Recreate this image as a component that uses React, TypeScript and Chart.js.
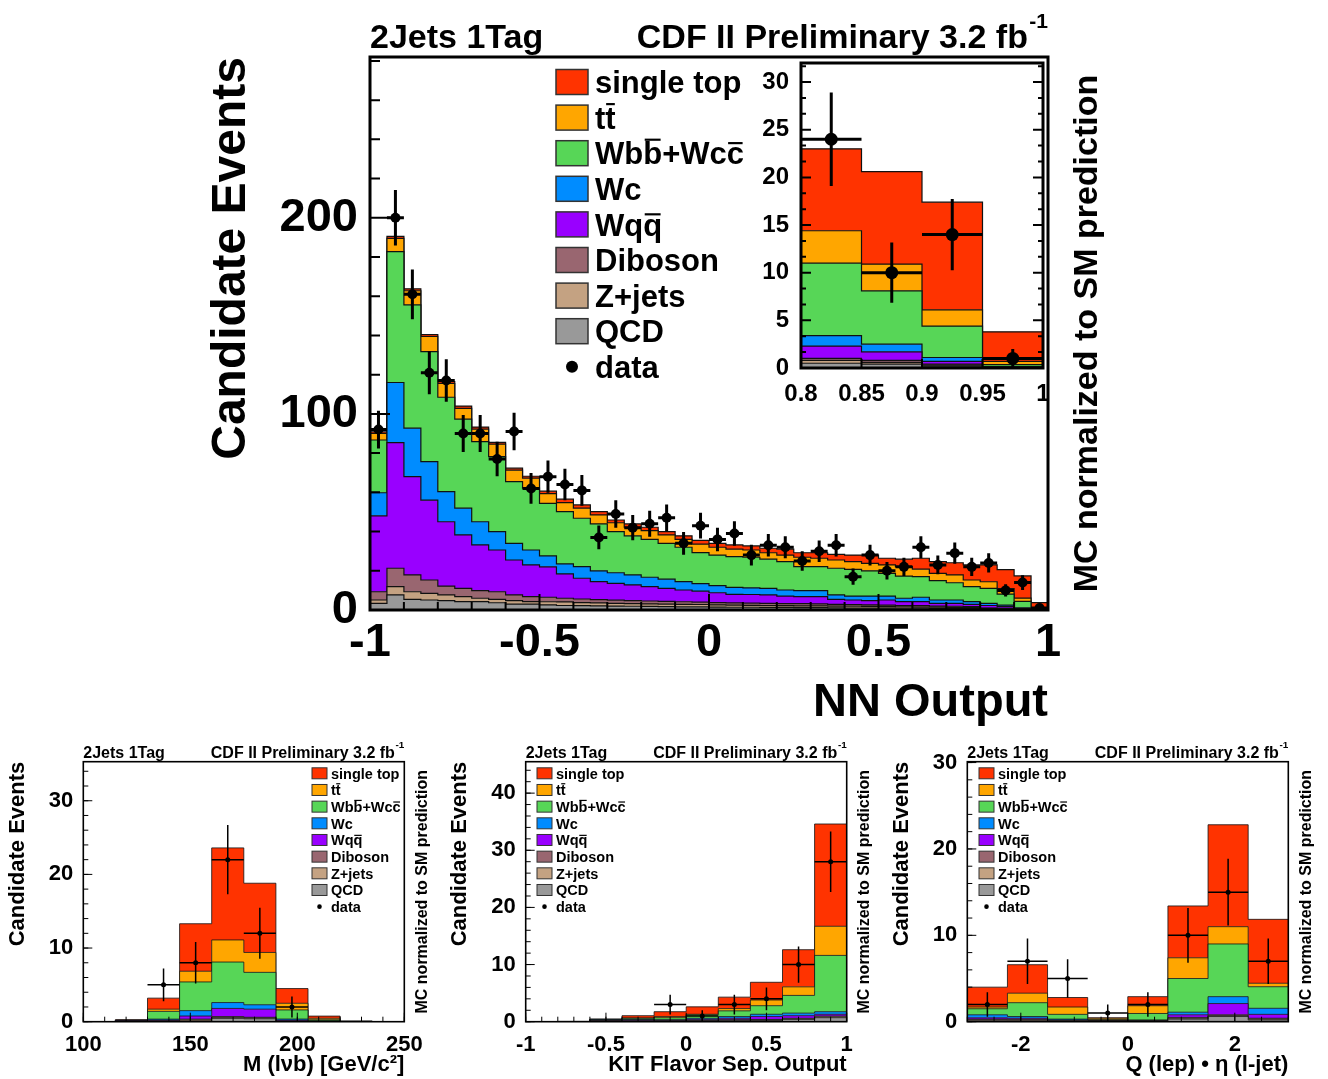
import React, { useEffect, useRef } from "react";
import { Chart, registerables } from "chart.js";

Chart.register(...registerables);

const FAMILY = "'Liberation Sans', Arial, Helvetica, sans-serif";
Chart.defaults.font.family = FAMILY;
Chart.defaults.color = "#000";

// ---------------- NN output (main plot, 40 bins from -1 to 1) ----------------
const nnXTicks = [-1, -0.5, 0, 0.5, 1];
const nnYTicks = [0, 100, 200];
const nnSingleTop = [0.8, 1.0, 1.0, 1.0, 1.0, 1.2, 1.1, 0.9, 1.0, 1.0, 1.3, 1.7, 1.7, 1.7, 1.4, 1.7, 1.7, 1.7, 1.8, 1.9, 2.0, 2.2, 2.1, 2.3, 3.0, 2.3, 2.8, 2.9, 3.3, 4.2, 3.4, 3.8, 5.6, 6.0, 6.2, 7.7, 8.6, 9.7, 11.3, 3.1];
const nnTT = [3.3, 6.7, 7.2, 7.7, 7.0, 5.5, 6.3, 6.4, 5.8, 5.1, 4.9, 4.6, 5.1, 4.6, 4.5, 4.4, 4.5, 4.3, 4.0, 4.3, 4.0, 3.8, 3.7, 3.3, 3.3, 4.8, 4.3, 4.2, 4.0, 3.8, 4.3, 4.8, 3.8, 3.7, 4.0, 3.4, 3.4, 2.8, 1.7, 0.35];
const nnWbb = [26.9, 66.8, 62.9, 56.1, 48.1, 45.4, 40.9, 38.2, 31.5, 31.5, 26.8, 26.7, 24.7, 23.9, 21.0, 19.9, 19.3, 18.3, 17.5, 15.8, 15.6, 15.7, 15.6, 14.9, 14.5, 12.2, 12.2, 13.6, 13.6, 12.9, 11.6, 11.3, 10.5, 9.9, 8.8, 7.6, 7.6, 5.6, 3.3, 0.2];
const nnWc = [11.8, 30.6, 24.7, 19.7, 15.4, 13.6, 11.8, 9.4, 8.5, 7.6, 5.6, 5.1, 5.9, 5.5, 5.4, 5.1, 4.8, 4.7, 4.3, 3.9, 3.6, 3.5, 3.4, 3.3, 3.1, 3.1, 3.1, 2.3, 2.0, 2.3, 2.0, 1.7, 2.2, 1.7, 1.7, 1.4, 1.1, 0.8, 0.4, 0.05];
const nnWqq = [38.7, 64.1, 50.1, 40.7, 32.8, 27.3, 23.3, 21.3, 17.8, 16.2, 15.5, 12.4, 10.6, 9.2, 8.6, 8.0, 7.3, 6.6, 6.0, 5.6, 5.0, 4.4, 4.4, 4.3, 3.8, 3.6, 3.7, 2.5, 2.4, 2.2, 2.6, 2.0, 2.1, 1.4, 1.5, 1.2, 1.3, 0.9, 0.3, 0.04];
const nnDiboson = [4.2, 9.4, 8.6, 6.8, 4.5, 4.2, 3.9, 3.9, 2.9, 2.5, 2.3, 1.9, 1.8, 1.7, 1.6, 1.6, 1.5, 1.4, 1.3, 1.2, 1.2, 1.1, 1.1, 1.1, 1.1, 1.1, 1.0, 0.9, 0.8, 0.8, 0.8, 0.7, 0.7, 0.6, 0.6, 0.5, 0.2, 0.2, 0.1, 0.02];
const nnZjets = [1.7, 4.2, 3.9, 3.4, 2.9, 2.5, 1.7, 1.7, 1.8, 1.3, 1.6, 1.8, 1.6, 1.5, 1.4, 1.3, 1.3, 1.3, 1.3, 1.2, 1.1, 1.1, 1.0, 1.0, 0.9, 0.9, 0.9, 0.9, 0.9, 0.8, 0.7, 0.7, 0.6, 0.6, 0.5, 0.5, 0.3, 0.2, 0.1, 0.02];
const nnQCD = [3.4, 7.7, 5.4, 5.1, 4.8, 4.3, 4.3, 3.7, 3.0, 3.0, 2.6, 2.3, 2.2, 2.1, 2.0, 1.9, 1.8, 1.7, 1.6, 1.6, 1.5, 1.4, 1.4, 1.3, 1.3, 1.2, 1.2, 1.1, 1.0, 1.0, 1.0, 0.9, 0.9, 0.8, 0.8, 0.7, 0.5, 0.4, 0.2, 0.02];
const nnData = [92, 200, 161, 121, 117, 90, 90, 77, 91, 62, 68, 64, 61, 37, 49, 42, 44, 47, 34, 43, 36, 39, 28, 33, 32, 25, 30, 33, 17, 28, 20, 22, 32, 23, 29, 22, 24, 10, 14, 1];

// inset (last four NN bins, 0.8 to 1)
const insetXTicks = [0.8, 0.85, 0.9, 0.95, 1];
const insetYTicks = [0, 5, 10, 15, 20, 25, 30];
const insetFirstBin = 36;

// ---------------- M(lvb), 10 bins 100..250 ----------------
const mXTicks = [100, 150, 200, 250];
const mYTicks = [0, 10, 20, 30];
const mSingleTop = [0, 0.05, 1.5, 6.45, 12.5, 9.4, 2.0, 0.3, 0.05, 0];
const mTT = [0, 0.03, 0.3, 1.45, 3.0, 2.7, 0.9, 0.2, 0.03, 0];
const mWbb = [0, 0.05, 1.05, 3.9, 5.5, 4.4, 1.24, 0.15, 0.02, 0];
const mWc = [0, 0.02, 0.12, 0.73, 0.8, 0.6, 0.16, 0.03, 0, 0];
const mWqq = [0, 0.02, 0.1, 0.42, 1.1, 1.1, 0.1, 0.03, 0, 0];
const mDiboson = [0, 0.05, 0.05, 0.1, 0.15, 0.1, 0.04, 0.03, 0, 0];
const mZjets = [0, 0.05, 0.05, 0.15, 0.1, 0.1, 0.04, 0.02, 0, 0];
const mQCD = [0, 0, 0.03, 0.1, 0.45, 0.4, 0.02, 0, 0, 0];
const mData = [0, 0, 5, 8, 22, 12, 2, 0, 0, 0];

// ---------------- KIT flavor separator, 10 bins -1..1 ----------------
const kXTicks = [-1, -0.5, 0, 0.5, 1];
const kYTicks = [0, 10, 20, 30, 40];
const kSingleTop = [0, 0.01, 0.03, 0.4, 0.85, 1.3, 2.0, 3.1, 6.5, 17.9];
const kTT = [0, 0, 0, 0.05, 0.2, 0.1, 0.4, 1.0, 1.5, 5.1];
const kWbb = [0, 0.01, 0.07, 0.2, 0.35, 0.6, 1.0, 1.5, 3.1, 9.85];
const kWc = [0, 0, 0.05, 0.1, 0.1, 0.2, 0.3, 0.4, 0.45, 0.45];
const kWqq = [0, 0.02, 0.1, 0.15, 0.1, 0.2, 0.25, 0.5, 0.45, 0.3];
const kDiboson = [0, 0.01, 0.1, 0.05, 0.05, 0.05, 0.1, 0.1, 0.1, 0.15];
const kZjets = [0, 0, 0.05, 0.05, 0.05, 0.07, 0.1, 0.1, 0.1, 0.15];
const kQCD = [0, 0, 0.05, 0.05, 0.05, 0.08, 0.15, 0.2, 0.4, 0.7];
const kData = [0, 0, 0, 0, 3, 1, 3, 4, 10, 28];

// ---------------- Q(lep)*eta(l-jet), 8 bins -3..3 ----------------
const qXTicks = [-2, 0, 2];
const qYTicks = [0, 10, 20, 30];
const qSingleTop = [2.3, 3.3, 1.1, 0.05, 1.05, 6.0, 11.8, 7.4];
const qTT = [0.2, 1.1, 0.85, 0.17, 0.9, 2.4, 2.0, 0.4];
const qWbb = [0.7, 1.6, 0.55, 0.05, 0.75, 3.9, 6.1, 2.5];
const qWc = [0.35, 0.2, 0.1, 0.03, 0.05, 0.3, 0.8, 0.7];
const qWqq = [0.15, 0.12, 0.05, 0.03, 0.04, 0.3, 1.3, 0.45];
const qDiboson = [0.1, 0.1, 0.05, 0.05, 0.04, 0.1, 0.1, 0.1];
const qZjets = [0.1, 0.1, 0.05, 0.05, 0.04, 0.1, 0.1, 0.1];
const qQCD = [0.1, 0.08, 0.05, 0.02, 0.03, 0.3, 0.6, 0.2];
const qData = [2, 7, 5, 1, 2, 10, 15, 7];

// ---------------- legend / colours ----------------
const COLORS: any = { st: "#FF3300", tt: "#FFA600", wbb: "#57D657", wc: "#008CFF", wqq: "#9900FF", dib: "#996670", zj: "#C4A282", qcd: "#999999" };
const STACK_ORDER = ["qcd", "zj", "dib", "wqq", "wc", "wbb", "tt", "st"];
const legendKeys = ["st", "tt", "wbb", "wc", "wqq", "dib", "zj", "qcd", "data"];
const legendLabels = ["single top", "tt", "Wbb+Wcc", "Wc", "Wqq", "Diboson", "Z+jets", "QCD", "data"];
const legendBars = [[], [1], [2, 6], [], [2], [], [], [], []];

const nnComps = { st: nnSingleTop, tt: nnTT, wbb: nnWbb, wc: nnWc, wqq: nnWqq, dib: nnDiboson, zj: nnZjets, qcd: nnQCD };
const insetComps: any = {};
Object.keys(nnComps).forEach((k) => { insetComps[k] = (nnComps as any)[k].slice(insetFirstBin); });
const mComps = { st: mSingleTop, tt: mTT, wbb: mWbb, wc: mWc, wqq: mWqq, dib: mDiboson, zj: mZjets, qcd: mQCD };
const kComps = { st: kSingleTop, tt: kTT, wbb: kWbb, wc: kWc, wqq: kWqq, dib: kDiboson, zj: kZjets, qcd: kQCD };
const qComps = { st: qSingleTop, tt: qTT, wbb: qWbb, wc: qWc, wqq: qWqq, dib: qDiboson, zj: qZjets, qcd: qQCD };

function edgesOf(lo: number, hi: number, n: number) {
  const e: number[] = [];
  for (let i = 0; i <= n; i++) e.push(lo + ((hi - lo) * i) / n);
  return e;
}

function stepPts(edges: number[], vals: number[]) {
  const pts = vals.map((v, i) => ({ x: edges[i], y: v }));
  pts.push({ x: edges[vals.length], y: vals[vals.length - 1] });
  return pts;
}

function drawBarredText(ctx: any, text: string, x: number, by: number, fs: number, bars: number[]) {
  ctx.fillText(text, x, by);
  bars.forEach((ci) => {
    const x0 = x + ctx.measureText(text.slice(0, ci)).width;
    const cw = ctx.measureText(text[ci]).width;
    const h = "bdfhklt".includes(text[ci]) ? 0.83 : 0.72;
    ctx.fillRect(x0 + cw * 0.08, by - h * fs, cw * 0.84, Math.max(1.2, 0.07 * fs));
  });
}

function makePlugin(s: any, edges: number[]) {
  return {
    id: "rootStyle",
    beforeDraw(chart: any) {
      if (!s.white) return;
      const a = chart.chartArea;
      const ctx = chart.ctx;
      ctx.save();
      ctx.fillStyle = "#fff";
      ctx.fillRect(a.left, a.top, a.right - a.left, a.bottom - a.top);
      ctx.restore();
    },
    afterDatasetsDraw(chart: any) {
      const ctx = chart.ctx;
      const xs = chart.scales.x;
      const ys = chart.scales.y;
      const ds = chart.data.datasets[8];
      ctx.save();
      ctx.strokeStyle = "#000";
      ctx.lineWidth = s.errLW;
      ds.data.forEach((p: any) => {
        const px = xs.getPixelForValue(p.x);
        const py = ys.getPixelForValue(p.y);
        const e = Math.sqrt(p.y);
        const y1 = ys.getPixelForValue(p.y + e);
        const y2 = ys.getPixelForValue(Math.max(p.y - e, 0));
        const x1 = xs.getPixelForValue(edges[p.i]);
        const x2 = xs.getPixelForValue(edges[p.i + 1]);
        ctx.beginPath();
        ctx.moveTo(px, y1);
        ctx.lineTo(px, y2);
        ctx.moveTo(x1, py);
        ctx.lineTo(x2, py);
        ctx.stroke();
      });
      ctx.restore();
    },
    afterDraw(chart: any) {
      const ctx = chart.ctx;
      const a = chart.chartArea;
      const xs = chart.scales.x;
      const ys = chart.scales.y;
      ctx.save();
      // inner ticks
      ctx.strokeStyle = "#000";
      ctx.lineWidth = s.tickW;
      ctx.beginPath();
      const nyMinor = Math.floor(s.yMax / s.yMinor + 1e-6);
      for (let k = 0; k <= nyMinor; k++) {
        const py = ys.getPixelForValue(k * s.yMinor);
        ctx.moveTo(a.left, py);
        ctx.lineTo(a.left + s.yMinLen, py);
        if (s.bothY) {
          ctx.moveTo(a.right, py);
          ctx.lineTo(a.right - s.yMinLen, py);
        }
      }
      s.yTicks.forEach((v: number) => {
        const py = ys.getPixelForValue(v);
        ctx.moveTo(a.left, py);
        ctx.lineTo(a.left + s.yMajLen, py);
        if (s.bothY) {
          ctx.moveTo(a.right, py);
          ctx.lineTo(a.right - s.yMajLen, py);
        }
      });
      if (s.xMinor) {
        const n = Math.round((s.hi - s.lo) / s.xMinor);
        for (let k = 0; k <= n; k++) {
          const px = xs.getPixelForValue(s.lo + k * s.xMinor);
          ctx.moveTo(px, a.bottom);
          ctx.lineTo(px, a.bottom - s.xMinLen);
        }
      }
      s.xTicks.forEach((v: number) => {
        const px = xs.getPixelForValue(v);
        ctx.moveTo(px, a.bottom);
        ctx.lineTo(px, a.bottom - s.xMajLen);
      });
      ctx.stroke();
      // frame
      ctx.lineWidth = s.frameW;
      ctx.strokeRect(a.left, a.top, a.right - a.left, a.bottom - a.top);

      ctx.fillStyle = "#000";
      // header
      if (s.header) {
        const fs = s.header.fs;
        const base = a.top - 0.26 * fs;
        ctx.textBaseline = "alphabetic";
        ctx.font = `bold ${fs}px ${FAMILY}`;
        ctx.textAlign = "left";
        ctx.fillText("2Jets 1Tag", a.left, base);
        const supFs = fs * 0.62;
        ctx.font = `bold ${supFs}px ${FAMILY}`;
        const supW = ctx.measureText("-1").width;
        ctx.fillText("-1", a.right - supW, base - 0.6 * fs);
        ctx.font = `bold ${fs}px ${FAMILY}`;
        ctx.textAlign = "right";
        ctx.fillText("CDF II Preliminary 3.2 fb", a.right - supW - 0.04 * fs, base);
      }
      // legend
      if (s.legend) {
        const L = s.legend;
        const lx = a.left + L.dx;
        ctx.textAlign = "left";
        ctx.textBaseline = "alphabetic";
        legendLabels.forEach((lab, k) => {
          const cy = a.top + L.dy0 + k * L.step;
          const key = legendKeys[k];
          if (key === "data") {
            ctx.fillStyle = "#000";
            ctx.beginPath();
            ctx.arc(lx + L.sw / 2, cy, L.dotR, 0, Math.PI * 2);
            ctx.fill();
          } else {
            ctx.fillStyle = COLORS[key];
            ctx.fillRect(lx, cy - L.sh / 2, L.sw, L.sh);
            ctx.lineWidth = L.lw;
            ctx.strokeStyle = "#333";
            ctx.strokeRect(lx, cy - L.sh / 2, L.sw, L.sh);
          }
          ctx.fillStyle = "#000";
          ctx.font = `bold ${L.fs}px ${FAMILY}`;
          drawBarredText(ctx, lab, lx + L.sw + L.gap, cy + 0.36 * L.fs, L.fs, legendBars[k]);
        });
      }
      // side text
      if (s.side) {
        ctx.save();
        ctx.translate(a.right + s.side.dx, (a.top + a.bottom) / 2);
        ctx.rotate(-Math.PI / 2);
        ctx.textAlign = "center";
        ctx.textBaseline = "middle";
        ctx.font = `bold ${s.side.fs}px ${FAMILY}`;
        ctx.fillStyle = "#000";
        ctx.fillText("MC normalized to SM prediction", 0, 0);
        ctx.restore();
      }
      ctx.restore();
    },
  };
}

function buildChart(canvas: HTMLCanvasElement, s: any) {
  const edges = edgesOf(s.lo, s.hi, s.nb);
  const datasets: any[] = STACK_ORDER.map((k, idx) => ({
    type: "line",
    label: k,
    data: stepPts(edges, s.comps[k]),
    stepped: true,
    fill: idx === 0 ? "origin" : "-1",
    backgroundColor: COLORS[k],
    borderColor: "#111",
    borderWidth: s.histLW,
    pointRadius: 0,
    pointHoverRadius: 0,
    stack: "mc",
    order: 2,
    tension: 0,
  }));
  datasets.push({
    type: "line",
    label: "data",
    data: s.data
      .map((v: number, i: number) => ({ x: (edges[i] + edges[i + 1]) / 2, y: v, i }))
      .filter((p: any) => p.y > 0),
    showLine: false,
    fill: false,
    pointRadius: s.dotR,
    pointHoverRadius: s.dotR,
    pointBackgroundColor: "#000",
    pointBorderColor: "#000",
    pointBorderWidth: 0,
    stack: "data",
    order: 0,
  });
  const tickFont = { family: FAMILY, weight: "bold", size: s.tickFont, lineHeight: 1 };
  return new Chart(canvas, {
    type: "line",
    data: { datasets },
    options: {
      responsive: false,
      animation: false,
      devicePixelRatio: 1,
      events: [],
      layout: { padding: s.pad },
      plugins: { legend: { display: false }, tooltip: { enabled: false }, title: { display: false } },
      scales: {
        x: {
          type: "linear",
          min: s.lo,
          max: s.hi,
          grid: { display: false },
          border: { display: false },
          afterBuildTicks: (sc: any) => {
            sc.ticks = s.xTicks.map((v: number) => ({ value: v }));
          },
          afterFit: (sc: any) => {
            sc.height = s.xH;
          },
          ticks: { font: tickFont, color: "#000", padding: s.tickPadX, maxRotation: 0, minRotation: 0, autoSkip: false, callback: (v: any) => String(v) },
          title: {
            display: !!s.xTitle,
            text: s.xTitle || "",
            align: "end",
            color: "#000",
            font: { family: FAMILY, weight: "bold", size: s.xTitleFont || 20, lineHeight: 1 },
            padding: { top: 0, bottom: s.xTitlePadB || 0 },
          },
        },
        y: {
          type: "linear",
          min: 0,
          max: s.yMax,
          stacked: true,
          grid: { display: false },
          border: { display: false },
          afterBuildTicks: (sc: any) => {
            sc.ticks = s.yTicks.map((v: number) => ({ value: v }));
          },
          afterFit: (sc: any) => {
            sc.width = s.yW;
          },
          ticks: { font: tickFont, color: "#000", padding: s.tickPadY, autoSkip: false, callback: (v: any) => String(v) },
          title: {
            display: !!s.yTitle,
            text: s.yTitle || "",
            align: "end",
            color: "#000",
            font: { family: FAMILY, weight: "bold", size: s.yTitleFont || 20, lineHeight: 1 },
            padding: { top: s.yTitlePadT || 0, bottom: 0 },
          },
        },
      },
    } as any,
    plugins: [makePlugin(s, edges) as any],
  });
}

const mainSpec = {
  left: 0, top: 0, w: 1328, h: 730,
  pad: { left: 200, right: 280, top: 57, bottom: 0 }, yW: 170, xH: 120,
  lo: -1, hi: 1, nb: 40, comps: nnComps, data: nnData, yMax: 282,
  xTicks: nnXTicks, yTicks: nnYTicks, tickFont: 47, tickPadX: 2, tickPadY: 4,
  xTitle: "NN Output", xTitleFont: 47, xTitlePadB: 3.5,
  yTitle: "Candidate Events", yTitleFont: 48, yTitlePadT: 8,
  xMinor: 0.1, yMinor: 20, xMajLen: 16, xMinLen: 8, yMajLen: 20, yMinLen: 10, bothY: false,
  frameW: 3, tickW: 2, histLW: 1.2, errLW: 3, dotR: 5,
  header: { fs: 34 },
  legend: { dx: 186, dy0: 25, step: 35.6, fs: 31, sw: 32, sh: 25, gap: 7, dotR: 6, lw: 1.5 },
  side: { dx: 40, fs: 34 },
};

const insetSpec = {
  left: 700, top: 40, w: 370, h: 410,
  pad: { left: 0, right: 27, top: 23, bottom: 0 }, yW: 101, xH: 82,
  lo: 0.8, hi: 1, nb: 4, comps: insetComps, data: nnData.slice(insetFirstBin), yMax: 32,
  xTicks: insetXTicks, yTicks: insetYTicks, tickFont: 24, tickPadX: 6, tickPadY: 4,
  xMinor: 0, yMinor: 5 / 3, xMajLen: 9, xMinLen: 0, yMajLen: 10, yMinLen: 5, bothY: true,
  frameW: 3, tickW: 2, histLW: 1.2, errLW: 3, dotR: 6.5, white: true,
};

function bottomSpec(o: any) {
  return {
    top: 735, h: 344, xH: 57.3,
    tickFont: 22, tickPadX: 4, tickPadY: 2,
    xTitleFont: 22, xTitlePadB: 3, yTitle: "Candidate Events", yTitleFont: 22,
    yMinor: 2, xMajLen: 9, xMinLen: 5, yMajLen: 9, yMinLen: 5, bothY: false,
    frameW: 1.6, tickW: 1, histLW: 0.8, errLW: 1.5, dotR: 2.5,
    header: { fs: 16 },
    side: { dx: 18, fs: 16 },
    ...o,
    legend: { dy0: 11.6, step: 16.67, fs: 14.5, sw: 15, sh: 11, gap: 4, dotR: 2.3, lw: 1, ...o.legend },
  };
}

const mSpec = bottomSpec({
  left: 0, w: 440, pad: { left: 0, right: 35.7, top: 26.7, bottom: 0 }, yW: 83.3,
  lo: 100, hi: 250, nb: 10, comps: mComps, data: mData, yMax: 35.3,
  xTicks: mXTicks, yTicks: mYTicks, xTitle: "M (l\u03bdb) [GeV/c\u00b2]", yTitlePadT: 7.3, xMinor: 10,
  legend: { dx: 228.7 },
});

const kSpec = bottomSpec({
  left: 440, w: 440, pad: { left: 0, right: 33.3, top: 26.7, bottom: 0 }, yW: 85.7,
  lo: -1, hi: 1, nb: 10, comps: kComps, data: kData, yMax: 45.5,
  xTicks: kXTicks, yTicks: kYTicks, xTitle: "KIT Flavor Sep. Output", yTitlePadT: 9, xMinor: 0.1,
  legend: { dx: 11.3 },
});

const qSpec = bottomSpec({
  left: 880, w: 448, pad: { left: 0, right: 39.7, top: 26.7, bottom: 0 }, yW: 87.3,
  lo: -3, hi: 3, nb: 8, comps: qComps, data: qData, yMax: 30.1,
  xTicks: qXTicks, yTicks: qYTicks, xTitle: "Q (lep) \u2022 \u03b7 (l-jet)", yTitlePadT: 10.7, xMinor: 0.5,
  legend: { dx: 11.7 },
});

const SPECS = [mainSpec, insetSpec, mSpec, kSpec, qSpec];

function HistCanvas({ spec }: { spec: any }) {
  const ref = useRef<HTMLCanvasElement>(null);
  useEffect(() => {
    if (!ref.current) return;
    const chart = buildChart(ref.current, spec);
    return () => chart.destroy();
  }, [spec]);
  return (
    <canvas
      ref={ref}
      width={spec.w}
      height={spec.h}
      style={{ position: "absolute", left: spec.left, top: spec.top, width: spec.w, height: spec.h, display: "block" }}
    />
  );
}

export default function App() {
  return (
    <div style={{ position: "absolute", left: 0, top: 0, width: 1328, height: 1079, background: "#fff", overflow: "hidden" }}>
      {SPECS.map((s, i) => (
        <HistCanvas key={i} spec={s} />
      ))}
    </div>
  );
}
